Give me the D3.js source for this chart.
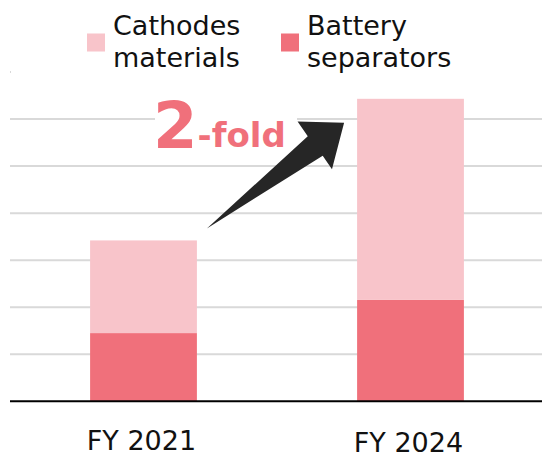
<!DOCTYPE html>
<html>
<head>
<meta charset="utf-8">
<script src="https://cdn.jsdelivr.net/npm/d3@7"></script>
<style>
  html, body { margin: 0; padding: 0; background: #fff; }
  svg { display: block; }
  text { font-family: "DejaVu Sans", Verdana, sans-serif; }
</style>
</head>
<body>
<svg id="chart" width="542" height="457"></svg>
<script>
// Fiscal years on the x axis
const years = ["FY 2021", "FY 2024"];
// Stacked series (bottom to top)
const seriesNames = ["Battery separators", "Cathodes materials"];
const separators = [1.45, 2.16];
const cathodes = [1.97, 4.27];
const gridTicks = [1, 2, 3, 4, 5, 6, 7];
const colors = { "Battery separators": "#F0707B", "Cathodes materials": "#F8C4CA" };

const svg = d3.select("#chart");
const W = 542, H = 457;

const x = d3.scaleBand().domain(years).range([10, 544]).paddingInner(0.6).paddingOuter(0.3);
const y = d3.scaleLinear().domain([0, 7]).range([401.3, 72]);

// Horizontal gridlines
svg.append("g").selectAll("line").data(gridTicks).join("line")
  .attr("x1", 10).attr("x2", W)
  .attr("y1", d => y(d)).attr("y2", d => y(d))
  .attr("stroke", "#D9D9D9").attr("stroke-width", 2);

// Stack the two series
const rows = years.map((yr, i) => ({ year: yr, "Battery separators": separators[i], "Cathodes materials": cathodes[i] }));
const stacked = d3.stack().keys(seriesNames)(rows);

svg.append("g").selectAll("g").data(stacked).join("g")
  .attr("fill", d => colors[d.key])
  .selectAll("rect").data(d => d).join("rect")
  .attr("x", d => x(d.data.year))
  .attr("width", x.bandwidth())
  .attr("y", d => y(d[1]))
  .attr("height", d => y(d[0]) - y(d[1]));

// Baseline
svg.append("line")
  .attr("x1", 10).attr("x2", W)
  .attr("y1", y(0)).attr("y2", y(0))
  .attr("stroke", "#000").attr("stroke-width", 2);

// Category labels
svg.append("g").selectAll("text").data(years).join("text")
  .attr("x", d => x(d) + x.bandwidth() / 2 - 2)
  .attr("y", (d, i) => 450 + i * 1.5)
  .attr("text-anchor", "middle")
  .attr("font-size", 27)
  .attr("fill", "#111")
  .text(d => d);

// Legend (white backing sits over the top gridline)
const legend = svg.append("g");
legend.append("rect").attr("x", 11).attr("y", 0).attr("width", W - 11).attr("height", 86).attr("fill", "#fff");
const legendItems = [
  { key: "Cathodes materials", lines: ["Cathodes", "materials"], x: 87 },
  { key: "Battery separators", lines: ["Battery", "separators"], x: 281 }
];
legendItems.forEach(item => {
  legend.append("rect")
    .attr("x", item.x).attr("y", 33.5).attr("width", 18).attr("height", 18)
    .attr("fill", colors[item.key]);
  const t = legend.append("text")
    .attr("x", item.x + 26).attr("y", 35)
    .attr("font-size", 27).attr("fill", "#111");
  item.lines.forEach((ln, j) => {
    t.append("tspan").attr("x", item.x + 26).attr("dy", j === 0 ? 0 : 31.7).text(ln);
  });
});

// Growth annotation: backing box and "2-fold" label
const ann = svg.append("g");
ann.append("rect").attr("x", 155).attr("y", 92).attr("width", 142).attr("height", 70).attr("fill", "#fff");
const label = ann.append("text").attr("x", 153).attr("y", 148)
  .attr("fill", "#F0707B").attr("font-weight", "bold");
label.append("tspan").attr("font-size", 64).text("2");
label.append("tspan").attr("font-size", 34).attr("dy", -1.5).text("-fold");

// Arrow from the FY 2021 bar top toward the FY 2024 bar
const total = years.map((_, i) => separators[i] + cathodes[i]);
const tail = [x(years[0]) + x.bandwidth() + 10, y(total[0]) - 12];
const tip = [x(years[1]) - 13, y(total[1]) + 24];
const dx = tip[0] - tail[0], dy = tip[1] - tail[1];
const len = Math.hypot(dx, dy);
const u = [dx / len, dy / len], n = [-u[1], u[0]];
const pt = (along, perp) => [tip[0] + u[0] * along + n[0] * perp, tip[1] + u[1] * along + n[1] * perp];
const headLen = 37, headHalf = 29.5, shaftHalf = 11.5;
const arrowPts = [
  tail,
  pt(-headLen, -shaftHalf),
  pt(-headLen + 1, -headHalf),
  tip,
  pt(-headLen - 1, headHalf),
  pt(-headLen, shaftHalf + 1.5)
];
ann.append("path")
  .attr("d", d3.line()(arrowPts) + "Z")
  .attr("fill", "#262626");
</script>
</body>
</html>
